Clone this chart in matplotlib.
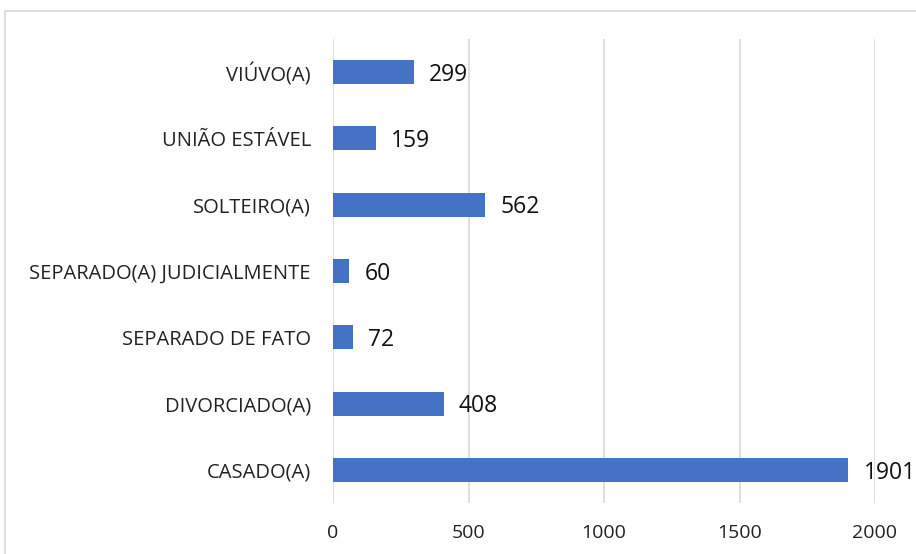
import matplotlib
matplotlib.use("Agg")
import matplotlib.pyplot as plt
from matplotlib.patches import Rectangle

categories = ["CASADO(A)", "DIVORCIADO(A)", "SEPARADO DE FATO",
              "SEPARADO(A) JUDICIALMENTE", "SOLTEIRO(A)", "UNIÃO ESTÁVEL", "VIÚVO(A)"]
values = [1901, 408, 72, 60, 562, 159, 299]
xticks = [0, 500, 1000, 1500, 2000]

plt.rcParams['font.family'] = ['Open Sans', 'DejaVu Sans']

W, H = 916, 554
fig = plt.figure(figsize=(W / 100, H / 100), dpi=100)
fig.patch.set_facecolor('white')

# outer chart border (extends past the right/bottom edge)
fig.patches.append(Rectangle((5 / W, -0.05), 1.2, 1 - 11 / H + 0.05,
                             transform=fig.transFigure, fill=False,
                             edgecolor='#d9d9d9', linewidth=1.2))

ax = fig.add_axes([333 / W, 1 - 503 / H, (875 - 333) / W, (503 - 39) / H])
y = list(range(len(categories)))
ax.barh(y, values, height=0.36, color='#4472C4', zorder=3)
ax.set_ylim(-0.5, len(categories) - 0.5)
ax.set_xlim(0, 2000)
ax.set_xticks(xticks)
ax.set_xticklabels([str(t) for t in xticks], fontsize=14, color='#222222')
ax.set_yticks(y)
ax.set_yticklabels(categories, fontsize=14.5, color='#222222')
ax.tick_params(axis='both', length=0)
ax.tick_params(axis='x', pad=15)
ax.tick_params(axis='y', pad=16)
ax.xaxis.grid(True, color='#d9d9d9', linewidth=1.2, zorder=0)
for s in ax.spines.values():
    s.set_visible(False)

for yi, v in zip(y, values):
    ax.annotate(str(v), (v, yi), xytext=(11, -2), textcoords='offset points',
                va='center', ha='left', fontsize=16.5, color='#111111',
                annotation_clip=False)

fig.savefig('out.png', dpi=100)
